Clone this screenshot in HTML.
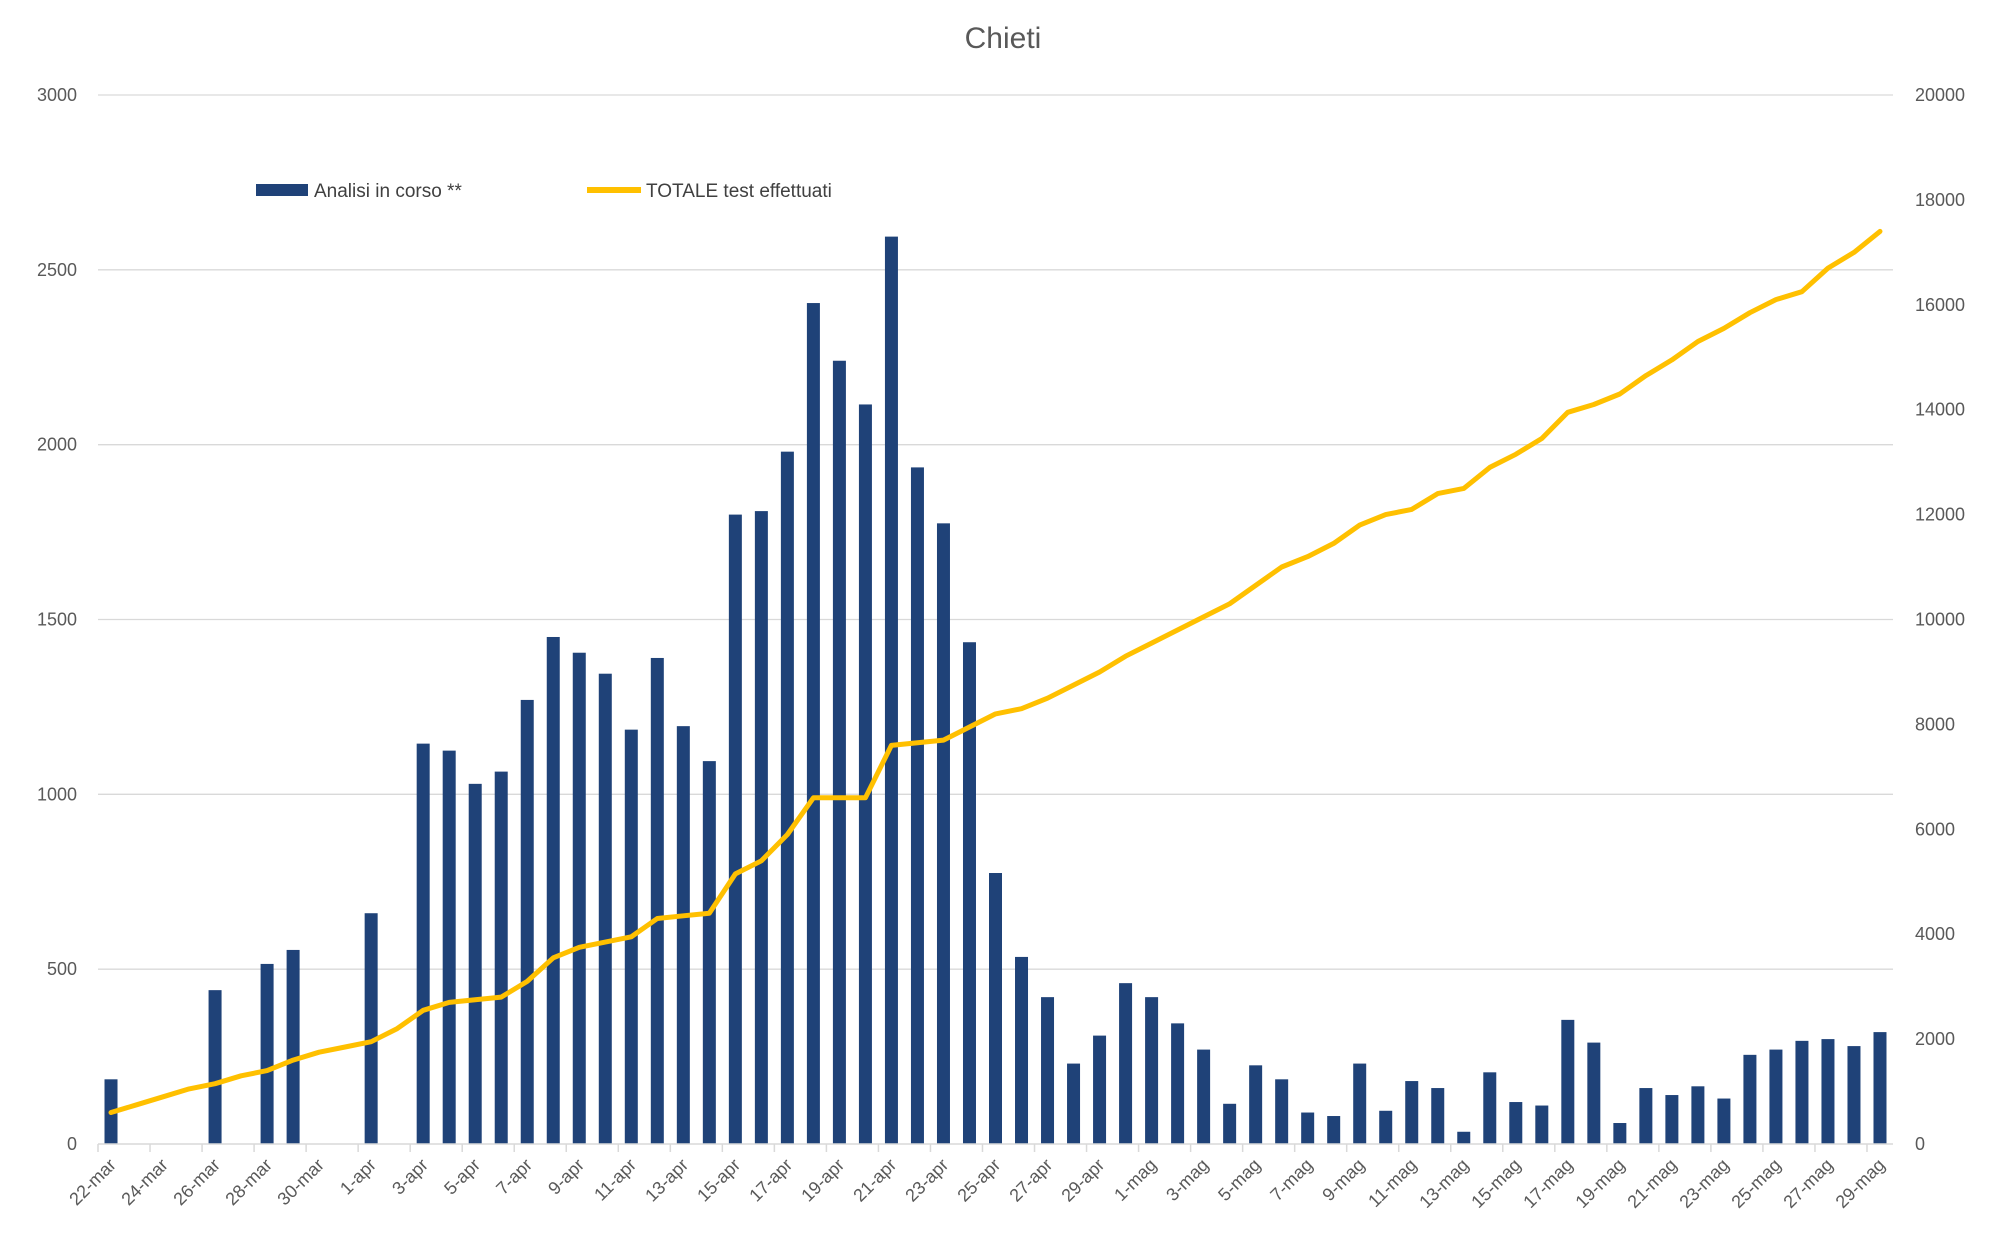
<!DOCTYPE html>
<html><head><meta charset="utf-8">
<style>
body{margin:0;background:#fff;}
svg{display:block;font-family:"Liberation Sans",sans-serif;}
</style></head>
<body>
<svg id="chart" width="2000" height="1256" viewBox="0 0 2000 1256" xmlns="http://www.w3.org/2000/svg">
<text x="1003" y="48" text-anchor="middle" font-size="30" fill="#595959">Chieti</text>
<g id="grid"></g>
<g id="bars"></g>
<g id="line"></g>
<g id="axes"></g>
<g>
<rect x="256" y="184" width="52" height="12" fill="#1f4278"/>
<text x="314" y="197" font-size="19" fill="#404040">Analisi in corso **</text>
<line x1="587" y1="190" x2="641" y2="190" stroke="#ffc000" stroke-width="6"/>
<text x="646" y="197" font-size="19" fill="#404040">TOTALE test effettuati</text>
</g>
</svg>
<script>
const categories=["22-mar","23-mar","24-mar","25-mar","26-mar","27-mar","28-mar","29-mar","30-mar","31-mar",
"1-apr","2-apr","3-apr","4-apr","5-apr","6-apr","7-apr","8-apr","9-apr","10-apr","11-apr","12-apr","13-apr","14-apr","15-apr","16-apr","17-apr","18-apr","19-apr","20-apr","21-apr","22-apr","23-apr","24-apr","25-apr","26-apr","27-apr","28-apr","29-apr","30-apr",
"1-mag","2-mag","3-mag","4-mag","5-mag","6-mag","7-mag","8-mag","9-mag","10-mag","11-mag","12-mag","13-mag","14-mag","15-mag","16-mag","17-mag","18-mag","19-mag","20-mag","21-mag","22-mag","23-mag","24-mag","25-mag","26-mag","27-mag","28-mag","29-mag"];
const analisiValues=[185,0,0,0,440,0,515,555,0,0,
660,0,1145,1125,1030,1065,1270,1450,1405,1345,1185,1390,1195,1095,1800,1810,1980,2405,2240,2115,2595,1935,1775,1435,775,535,420,230,310,460,
420,345,270,115,225,185,90,80,230,95,180,160,35,205,120,110,355,290,60,160,140,165,130,255,270,295,300,280,320];
const totaleValues=[600,750,900,1050,1150,1300,1400,1600,1750,1850,
1950,2200,2550,2700,2750,2800,3100,3550,3750,3850,3950,4300,4350,4400,5150,5400,5900,6600,6600,6600,7600,7650,7700,7950,8200,8300,8500,8750,9000,9300,
9550,9800,10050,10300,10650,11000,11200,11450,11800,12000,12100,12400,12500,12900,13150,13450,13950,14100,14300,14650,14950,15300,15550,15850,16100,16250,16700,17000,17400];
const leftTicks=[0,500,1000,1500,2000,2500,3000];
const rightTicks=[0,2000,4000,6000,8000,10000,12000,14000,16000,18000,20000];

const NS="http://www.w3.org/2000/svg";
const X0=98,X1=1893,Y0=1144,Ytop=95;
const band=(X1-X0)/categories.length;
const xC=i=>X0+band*(i+0.5);
const yL=v=>Y0-(v/3000)*(Y0-Ytop);
const yR=v=>Y0-(v/20000)*(Y0-Ytop);
function mk(tag,attrs,parent){const e=document.createElementNS(NS,tag);for(const k in attrs)e.setAttribute(k,attrs[k]);parent.appendChild(e);return e;}
const grid=document.getElementById('grid'),axes=document.getElementById('axes'),bars=document.getElementById('bars'),lineG=document.getElementById('line');

leftTicks.forEach(v=>{
  const y=yL(v);
  if(v>0){const g=mk('line',{x1:X0,x2:X1,y1:y,y2:y,stroke:'#d9d9d9','stroke-width':1.3},grid);
  
  }
  const t=mk('text',{x:77,y:y+6,'text-anchor':'end','font-size':18,fill:'#595959'},axes);
  t.textContent=v;
  
  
});
rightTicks.forEach(v=>{
  const t=mk('text',{x:1915,y:yR(v)+6,'text-anchor':'start','font-size':18,fill:'#595959'},axes);
  t.textContent=v;
  
  
});
const ax=mk('line',{x1:X0,x2:X1,y1:Y0,y2:Y0,stroke:'#d9d9d9','stroke-width':1.5},axes);



analisiValues.forEach((v,i)=>{
  if(v<=0)return;
  const r=mk('rect',{x:xC(i)-6.5,y:yL(v),width:13,height:Y0-yL(v),fill:'#1f4278'},bars);
  
  
});

categories.forEach((c,i)=>{
  if(i%2!==0)return;
  const tx=X0+band*i;
  const tk=mk('line',{x1:tx,x2:tx,y1:Y0,y2:Y0+8,stroke:'#d9d9d9','stroke-width':1.5},axes);
  
  
  const lx=xC(i)+6,ly=Y0+22;
  const t=mk('text',{x:lx,y:ly,'text-anchor':'end','font-size':18,fill:'#595959',transform:`rotate(-45 ${lx} ${ly})`},axes);
  t.textContent=c;
  
  
});

const pts=totaleValues.map((v,i)=>xC(i).toFixed(1)+','+yR(v).toFixed(1)).join(' ');
const pl=mk('polyline',{points:pts,fill:'none',stroke:'#ffc000','stroke-width':5,'stroke-linejoin':'round','stroke-linecap':'round'},lineG);


</script>
</body></html>
